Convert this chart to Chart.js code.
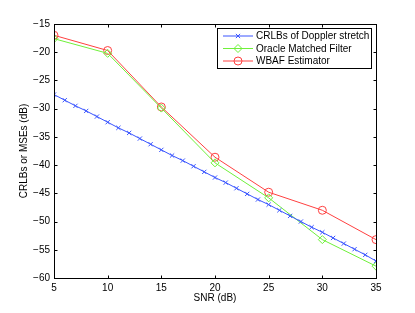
<!DOCTYPE html>
<html>
<head>
<meta charset="utf-8">
<script src="https://cdn.jsdelivr.net/npm/chart.js@4/dist/chart.umd.min.js"></script>
<style>
  html, body { margin: 0; padding: 0; background: #fff; }
  #wrap { width: 415px; height: 313px; }
</style>
</head>
<body>
<div id="wrap"><canvas id="c" width="415" height="313"></canvas></div>
<script>
// SNR points (dB)
const snrFine = [5, 6, 7, 8, 9, 10, 11, 12, 13, 14, 15, 16, 17, 18, 19, 20,
                 21, 22, 23, 24, 25, 26, 27, 28, 29, 30, 31, 32, 33, 34, 35];
const snrCoarse = [5, 10, 15, 20, 25, 30, 35];

// CRLB of Doppler stretch (dB)
const crlb = [-27.5, -28.5, -29.5, -30.4, -31.4, -32.4, -33.4, -34.3, -35.3, -36.3,
              -37.3, -38.3, -39.2, -40.2, -41.2, -42.2, -43.1, -44.1, -45.1, -46.1,
              -47.0, -48.0, -49.0, -50.0, -51.0, -51.9, -52.9, -53.9, -54.9, -55.9, -57.0];
// Oracle matched filter MSE (dB)
const oracle = [-17.6, -20.2, -29.9, -39.6, -45.8, -53.2, -57.9];
// WBAF estimator MSE (dB)
const wbaf = [-17.0, -19.7, -29.7, -38.6, -44.8, -48.0, -53.2];

const seriesNames = ['CRLBs of Doppler stretch', 'Oracle Matched Filter', 'WBAF Estimator'];
const xTicks = [5, 10, 15, 20, 25, 30, 35];
const yTicks = [-60, -55, -50, -45, -40, -35, -30, -25, -20, -15];

const FONT = 'Liberation Sans, Arial, Helvetica, sans-serif';
const BLUE = '#3a55ff', GREEN = '#6ff03a', RED = '#ff4040';

const pts = (xs, ys) => xs.map((x, i) => ({ x: x, y: ys[i] }));

// frame, inward ticks and legend, matlab style
const matlabAxes = {
    id: 'matlabAxes',
    afterDraw(chart) {
        const ctx = chart.ctx;
        const a = chart.chartArea;
        const xs = chart.scales.x, ys = chart.scales.y;
        const L = Math.round(a.left) + 0.5, R = Math.round(a.right) + 0.5;
        const T = Math.round(a.top) + 0.5, B = Math.round(a.bottom) + 0.5;
        ctx.save();
        ctx.strokeStyle = '#000';
        ctx.lineWidth = 1;
        ctx.strokeRect(L, T, R - L, B - T);
        ctx.beginPath();
        xTicks.forEach(v => {
            const px = Math.round(xs.getPixelForValue(v)) + 0.5;
            ctx.moveTo(px, B); ctx.lineTo(px, B - 3);
            ctx.moveTo(px, T); ctx.lineTo(px, T + 3);
        });
        yTicks.forEach(v => {
            const py = Math.round(ys.getPixelForValue(v)) + 0.5;
            ctx.moveTo(L, py); ctx.lineTo(L + 3, py);
            ctx.moveTo(R, py); ctx.lineTo(R - 3, py);
        });
        ctx.stroke();

        // legend box
        const bx = 217.5, by = 28.5, bw = 154, bh = 40;
        ctx.fillStyle = '#fff';
        ctx.fillRect(bx, by, bw, bh);
        ctx.strokeRect(bx, by, bw, bh);
        ctx.font = '10px ' + FONT;
        ctx.textBaseline = 'middle';
        chart.data.datasets.forEach((ds, i) => {
            const y = 36 + i * 12.5;
            ctx.strokeStyle = ds.borderColor;
            ctx.beginPath();
            ctx.moveTo(223, y); ctx.lineTo(253, y);
            ctx.stroke();
            ctx.fillStyle = 'rgba(0,0,0,0)';
            Chart.helpers.drawPoint(ctx, {
                pointStyle: ds.pointStyle, radius: ds.pointRadius, rotation: 0, borderWidth: 1
            }, 238, y);
            ctx.fillStyle = '#000';
            ctx.fillText(seriesNames[i], 256, y + 0.5);
        });
        ctx.restore();
    }
};

new Chart(document.getElementById('c'), {
    type: 'line',
    data: {
        datasets: [
            { label: seriesNames[0], data: pts(snrFine, crlb), borderColor: BLUE,
              pointStyle: 'crossRot', pointRadius: 3, pointBorderColor: BLUE },
            { label: seriesNames[1], data: pts(snrCoarse, oracle), borderColor: GREEN,
              pointStyle: 'rectRot', pointRadius: 4, pointBorderColor: GREEN },
            { label: seriesNames[2], data: pts(snrCoarse, wbaf), borderColor: RED,
              pointStyle: 'circle', pointRadius: 4, pointBorderColor: RED }
        ].map(d => Object.assign(d, {
            borderWidth: 1, pointBorderWidth: 1, backgroundColor: 'rgba(0,0,0,0)',
            pointBackgroundColor: 'rgba(0,0,0,0)', tension: 0, fill: false
        }))
    },
    options: {
        responsive: false,
        animation: false,
        layout: { padding: { top: 24, right: 39, left: 0, bottom: 0 } },
        plugins: { legend: { display: false }, tooltip: { enabled: false } },
        scales: {
            x: {
                type: 'linear', min: 5, max: 35,
                afterFit: s => { s.height = 35; },
                afterBuildTicks: s => { s.ticks = xTicks.map(v => ({ value: v })); },
                grid: { display: false, drawTicks: false },
                border: { display: false },
                ticks: { padding: 4, color: '#000', font: { family: FONT, size: 10 }, maxRotation: 0 },
                title: { display: true, text: 'SNR (dB)', color: '#000',
                         font: { family: FONT, size: 10 }, padding: { bottom: 9 } }
            },
            y: {
                min: -60, max: -15,
                afterFit: s => { s.width = 54; },
                afterBuildTicks: s => { s.ticks = yTicks.map(v => ({ value: v })); },
                grid: { display: false, drawTicks: false },
                border: { display: false },
                ticks: { padding: 4, color: '#000', font: { family: FONT, size: 10 },
                         callback: v => String(v).replace('-', '\u2212') },
                title: { display: true, text: 'CRLBs or MSEs (dB)', color: '#000',
                         font: { family: FONT, size: 10 }, padding: { top: 18 } }
            }
        }
    },
    plugins: [matlabAxes]
});
</script>
</body>
</html>
